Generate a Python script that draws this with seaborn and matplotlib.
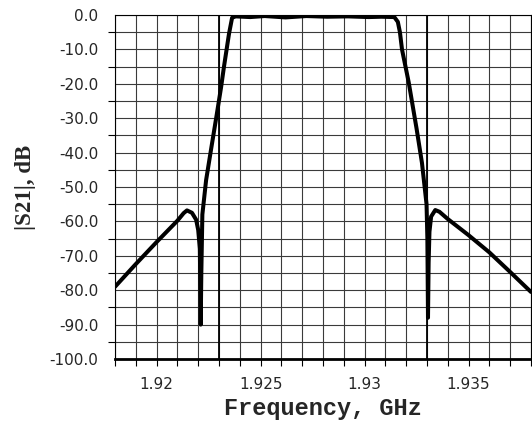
import matplotlib
matplotlib.use("Agg")
import matplotlib.pyplot as plt
import seaborn as sns
import pandas as pd
from matplotlib.ticker import FixedLocator, FixedFormatter

# ------------------------------
# data (frequency in GHz, |S21| in dB)
# ------------------------------
freq = [1.9180, 1.9190, 1.9200, 1.9210, 1.9213, 1.92146, 1.9217, 1.9219, 1.9220,
        1.92208, 1.92212, 1.92215, 1.92220, 1.92238, 1.92262, 1.92289, 1.9231,
        1.92324, 1.92348, 1.92363, 1.9238, 1.9245, 1.9252, 1.9262, 1.9272,
        1.9282, 1.9292, 1.9302, 1.9308, 1.93143, 1.93160, 1.93170, 1.93180,
        1.93212, 1.93250, 1.93276, 1.93298, 1.93302, 1.93305, 1.93308, 1.93312,
        1.9332, 1.9334, 1.9336, 1.9340, 1.9350, 1.9360, 1.9370, 1.9380]
s21 = [-79.0, -72.4, -66.0, -59.8, -57.6, -56.8, -57.5, -59.5, -62.5,
       -68.0, -90.0, -75.0, -58.0, -48.0, -39.0, -29.0, -21.0,
       -15.0, -5.5, -0.8, -0.4, -0.6, -0.3, -0.7, -0.3,
       -0.5, -0.4, -0.6, -0.5, -0.6, -2.0, -5.0, -10.0,
       -19.5, -33.0, -43.0, -55.0, -65.0, -88.0, -72.0, -63.0,
       -58.6, -56.7, -57.2, -59.3, -64.0, -69.0, -74.7, -80.5]

marker_freqs = [1.923, 1.933]

x_major = [1.92, 1.925, 1.93, 1.935]
x_labels = ["1.92", "1.925", "1.93", "1.935"]
x_minor = [1.918 + 0.001 * i for i in range(21)]

y_major = [0, -10, -20, -30, -40, -50, -60, -70, -80, -90, -100]
y_labels = ["0.0", "-10.0", "-20.0", "-30.0", "-40.0", "-50.0", "-60.0",
            "-70.0", "-80.0", "-90.0", "-100.0"]
y_minor = [-5 - 10 * i for i in range(10)]

df = pd.DataFrame({"freq": freq, "s21": s21})

# ------------------------------
# plot
# ------------------------------
sns.set_style("white")
plt.rcParams["font.family"] = ["DejaVu Sans"]
plt.rcParams["axes.unicode_minus"] = False

fig, ax = plt.subplots(figsize=(5.32, 4.24), dpi=100)
fig.subplots_adjust(left=0.2162, right=0.998, bottom=0.1533, top=0.9646)

sns.lineplot(data=df, x="freq", y="s21", sort=False, estimator=None,
             color="black", linewidth=2.9, ax=ax, zorder=5)

for f in marker_freqs:
    ax.axvline(f, color="black", linewidth=1.3, zorder=3)

ax.set_xlim(1.918, 1.938)
ax.set_ylim(-100, 0)

ax.xaxis.set_major_locator(FixedLocator(x_major))
ax.xaxis.set_major_formatter(FixedFormatter(x_labels))
ax.xaxis.set_minor_locator(FixedLocator(x_minor))
ax.yaxis.set_major_locator(FixedLocator(y_major))
ax.yaxis.set_major_formatter(FixedFormatter(y_labels))
ax.yaxis.set_minor_locator(FixedLocator(y_minor))

ax.grid(which="both", color="#3a3a3a", linewidth=0.8)
ax.set_axisbelow(True)

ax.tick_params(axis="x", which="both", direction="out", length=5, width=0.8,
               color="black", bottom=True)
ax.tick_params(axis="x", which="major", labelsize=11, pad=8)
ax.tick_params(axis="y", which="major", length=0, labelsize=11, pad=12)
ax.tick_params(axis="y", which="minor", direction="out", length=5, width=0.8,
               color="black", left=True)

for side in ["left", "top", "right"]:
    ax.spines[side].set_color("black")
    ax.spines[side].set_linewidth(0.8)
ax.spines["bottom"].set_color("black")
ax.spines["bottom"].set_linewidth(2)

ax.set_xlabel("Frequency, GHz", family="Liberation Mono", fontweight="bold",
              fontsize=17)
ax.set_ylabel("|S21|, dB", family="Liberation Serif", fontweight="bold",
              fontsize=16.5)
ax.xaxis.set_label_coords(0.5, -0.11)
ax.yaxis.set_label_coords(-0.19, 0.5)

plt.savefig("out.png", dpi=100)
